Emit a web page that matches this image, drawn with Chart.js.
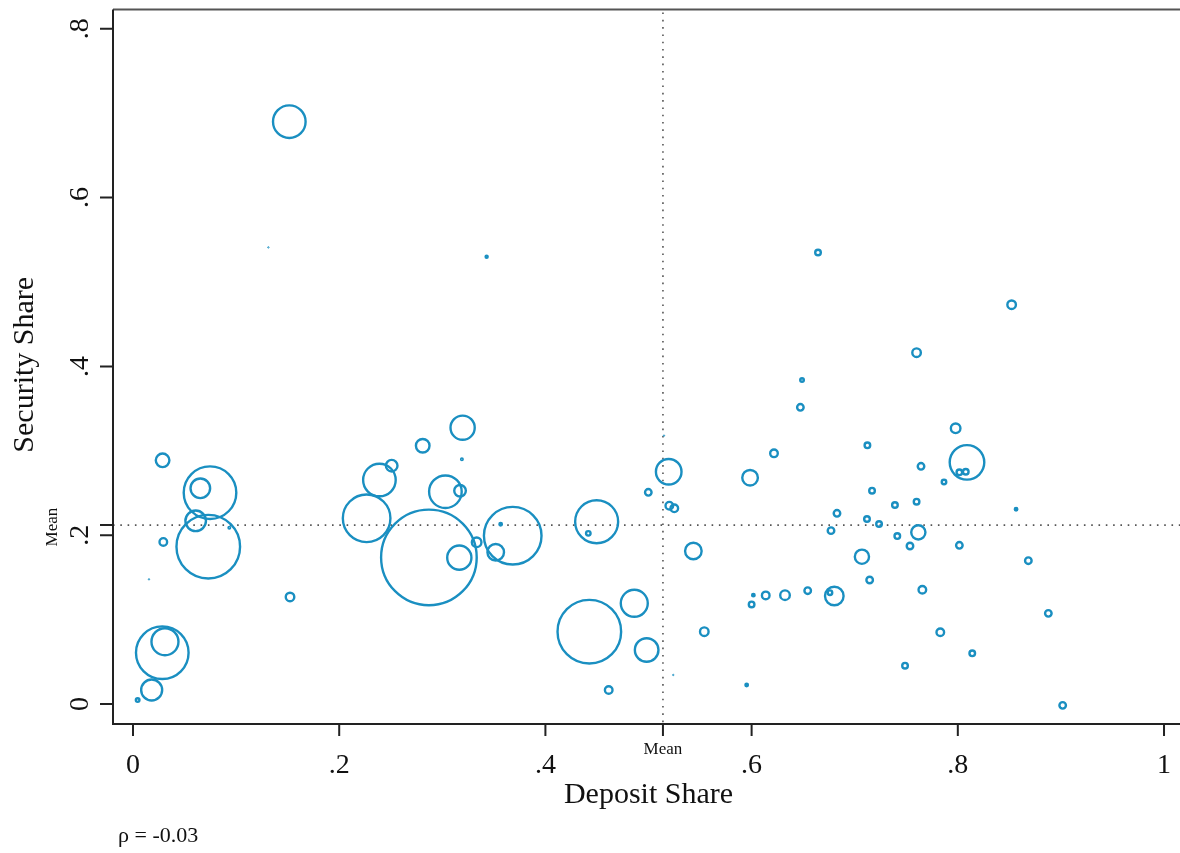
<!DOCTYPE html>
<html>
<head>
<meta charset="utf-8">
<script src="https://cdn.jsdelivr.net/npm/chart.js@4.4.1/dist/chart.umd.min.js"></script>
<style>
  html, body { margin: 0; padding: 0; background: #fff; }
  #wrap { width: 1180px; height: 853px; }
</style>
</head>
<body>
<div id="wrap"><canvas id="scatter" width="1180" height="853"></canvas></div>
<script>
(function () {
  'use strict';

  // --- Data ---
  var depositShare = [
    0.1516, 0.1313, 0.343, 0.6644, 0.8522, 0.0287, 0.0747, 0.0653, 0.0608, 0.073,
    0.0934, 0.0294, 0.0155, 0.1523, 0.239, 0.2509, 0.2266, 0.287, 0.3197, 0.281,
    0.319, 0.303, 0.3172, 0.3566, 0.3333, 0.3165, 0.3518, 0.3683, 0.4497, 0.4416,
    0.5196, 0.515, 0.4998, 0.5202, 0.525, 0.5435, 0.5985, 0.6217, 0.760, 0.6489,
    0.6473, 0.7979, 0.7123, 0.8089, 0.8015, 0.8077, 0.7643, 0.7866, 0.7168, 0.760,
    0.739, 0.6828, 0.8565, 0.7119, 0.7236, 0.677, 0.7617, 0.7413, 0.7536, 0.8015,
    0.8684, 0.707, 0.7145, 0.7656, 0.6544, 0.6324, 0.6802, 0.676, 0.8878, 0.783,
    0.814, 0.7488, 0.9017, 0.4862, 0.4426, 0.4982, 0.4614, 0.524, 0.5541, 0.5952,
    0.6, 0.6017, 0.6137, 0.0284, 0.031, 0.0181, 0.0045
  ];
  var securityShare = [
    0.690, 0.541, 0.530, 0.535, 0.4731, 0.2887, 0.2504, 0.2556, 0.217, 0.1864,
    0.2089, 0.192, 0.1477, 0.1268, 0.2654, 0.2824, 0.22, 0.1737, 0.3274, 0.306,
    0.290, 0.2515, 0.2527, 0.2129, 0.1916, 0.1734, 0.1798, 0.1994, 0.216, 0.2022,
    0.2752, 0.318, 0.2508, 0.235, 0.2319, 0.1813, 0.2681, 0.297, 0.4163, 0.3839,
    0.3515, 0.3266, 0.3065, 0.2863, 0.2745, 0.2752, 0.2816, 0.263, 0.2528, 0.2397,
    0.2358, 0.2259, 0.2307, 0.2192, 0.2133, 0.2054, 0.2034, 0.199, 0.1872, 0.188,
    0.1698, 0.1745, 0.1469, 0.1354, 0.1343, 0.129, 0.128, 0.1319, 0.1074, 0.085,
    0.060, 0.0454, -0.0016, 0.1193, 0.0857, 0.064, 0.0166, 0.0344, 0.0857, 0.0225,
    0.118, 0.129, 0.1287, 0.0608, 0.0738, 0.0166, 0.0047
  ];
  // bubble weights (relative bank size)
  var bankSize = [
    306, 1, 5, 16, 30, 64, 756, 121, 132, 1089,
    4, 25, 1, 30, 306, 49, 625, 2401, 177, 64,
    4, 306, 49, 6, 36, 177, 90, 900, 515, 12,
    196, 1, 20, 25, 25, 90, 81, 25, 30, 9,
    20, 36, 16, 342, 16, 16, 20, 12, 16, 16,
    16, 20, 6, 16, 16, 20, 69, 16, 20, 20,
    20, 69, 20, 25, 20, 36, 110, 12, 20, 25,
    16, 16, 20, 216, 1089, 169, 25, 1, 30, 6,
    16, 6, 25, 756, 216, 137, 9
  ];

  var xTicks = [0, 0.2, 0.4, 0.6, 0.8, 1];
  var xTickLabels = ['0', '.2', '.4', '.6', '.8', '1'];
  var yTicks = [0, 0.2, 0.4, 0.6, 0.8];
  var yTickLabels = ['0', '.2', '.4', '.6', '.8'];
  var meanDeposit = 0.514;
  var meanSecurity = 0.212;
  var rho = '-0.03';

  // --- Styles ---
  var bubbleColor = '#1a8fc1';
  var axisColor = '#222222';
  var textColor = '#111111';
  var serif = '"Liberation Serif", "Times New Roman", serif';

  var points = depositShare.map(function (x, i) {
    return { x: x, y: securityShare[i], r: Math.max(0.7, Math.sqrt(bankSize[i]) - 1.2), w: bankSize[i] };
  });

  var stataAxes = {
    id: 'stataAxes',
    beforeDatasetsDraw: function (chart) {
      var ctx = chart.ctx, a = chart.chartArea;
      var xs = chart.scales.x, ys = chart.scales.y;
      var mx = xs.getPixelForValue(meanDeposit);
      var my = ys.getPixelForValue(meanSecurity);
      ctx.save();
      ctx.strokeStyle = '#555';
      ctx.lineWidth = 1.6;
      ctx.setLineDash([1.6, 5.7]);
      ctx.beginPath();
      ctx.moveTo(mx, a.top + 3);
      ctx.lineTo(mx, a.bottom);
      ctx.moveTo(a.left, my);
      ctx.lineTo(a.right, my);
      ctx.stroke();
      ctx.restore();
    },
    afterDraw: function (chart) {
      var ctx = chart.ctx, a = chart.chartArea;
      var xs = chart.scales.x, ys = chart.scales.y;
      ctx.save();

      // frame
      ctx.strokeStyle = '#555';
      ctx.lineWidth = 2;
      ctx.beginPath();
      ctx.moveTo(a.left, a.top);
      ctx.lineTo(a.right, a.top);
      ctx.stroke();
      ctx.strokeStyle = axisColor;
      ctx.beginPath();
      ctx.moveTo(a.left, a.top);
      ctx.lineTo(a.left, a.bottom);
      ctx.lineTo(a.right, a.bottom);
      ctx.stroke();

      // tick marks
      ctx.lineWidth = 2;
      ctx.beginPath();
      xTicks.concat([meanDeposit]).forEach(function (v) {
        var px = xs.getPixelForValue(v);
        ctx.moveTo(px, a.bottom);
        ctx.lineTo(px, a.bottom + 12);
      });
      yTicks.concat([meanSecurity]).forEach(function (v) {
        var py = ys.getPixelForValue(v);
        ctx.moveTo(a.left, py);
        ctx.lineTo(a.left - 13, py);
      });
      ctx.stroke();

      ctx.fillStyle = textColor;
      ctx.textAlign = 'center';
      ctx.textBaseline = 'alphabetic';

      // x tick labels
      ctx.font = '28px ' + serif;
      xTicks.forEach(function (v, i) {
        ctx.fillText(xTickLabels[i], xs.getPixelForValue(v), a.bottom + 49);
      });
      ctx.font = '17px ' + serif;
      ctx.fillText('Mean', xs.getPixelForValue(meanDeposit), a.bottom + 30);

      // y tick labels (rotated)
      function rotText(txt, x, y, font) {
        ctx.save();
        ctx.font = font;
        ctx.translate(x, y);
        ctx.rotate(-Math.PI / 2);
        ctx.fillText(txt, 0, 0);
        ctx.restore();
      }
      yTicks.forEach(function (v, i) {
        rotText(yTickLabels[i], a.left - 25, ys.getPixelForValue(v), '28px ' + serif);
      });
      rotText('Mean', a.left - 56, ys.getPixelForValue(meanSecurity) + 2, '17px ' + serif);

      // axis titles
      ctx.font = '30px ' + serif;
      ctx.fillText('Deposit Share', (a.left + a.right) / 2 + 2, a.bottom + 79);
      rotText('Security Share', a.left - 80, (a.top + a.bottom) / 2 - 2, '30px ' + serif);

      // correlation note
      ctx.textAlign = 'left';
      ctx.font = '22px ' + serif;
      ctx.fillText('\u03C1 = ' + rho, a.left + 5, a.bottom + 118);

      ctx.restore();
    }
  };

  var ctxEl = document.getElementById('scatter');
  new Chart(ctxEl.getContext('2d'), {
    type: 'bubble',
    data: {
      datasets: [{
        data: points,
        backgroundColor: 'rgba(0,0,0,0)',
        borderColor: bubbleColor,
        borderWidth: function (c) { return c.raw && c.raw.w <= 2 ? 1 : 2.4; },
        hoverBorderWidth: 2.4
      }]
    },
    options: {
      responsive: false,
      animation: false,
      layout: { autoPadding: false, padding: { top: 9.5, right: 0, left: 0, bottom: 0 } },
      scales: {
        x: {
          type: 'linear',
          min: -0.0194,
          max: 1.0155,
          grid: { display: false },
          border: { display: false },
          ticks: { display: false },
          afterFit: function (s) { s.height = 129; }
        },
        y: {
          type: 'linear',
          min: -0.0237,
          max: 0.8229,
          grid: { display: false },
          border: { display: false },
          ticks: { display: false },
          afterFit: function (s) { s.width = 113; }
        }
      },
      plugins: {
        legend: { display: false },
        tooltip: { enabled: false }
      }
    },
    plugins: [stataAxes]
  });
})();
</script>
</body>
</html>
